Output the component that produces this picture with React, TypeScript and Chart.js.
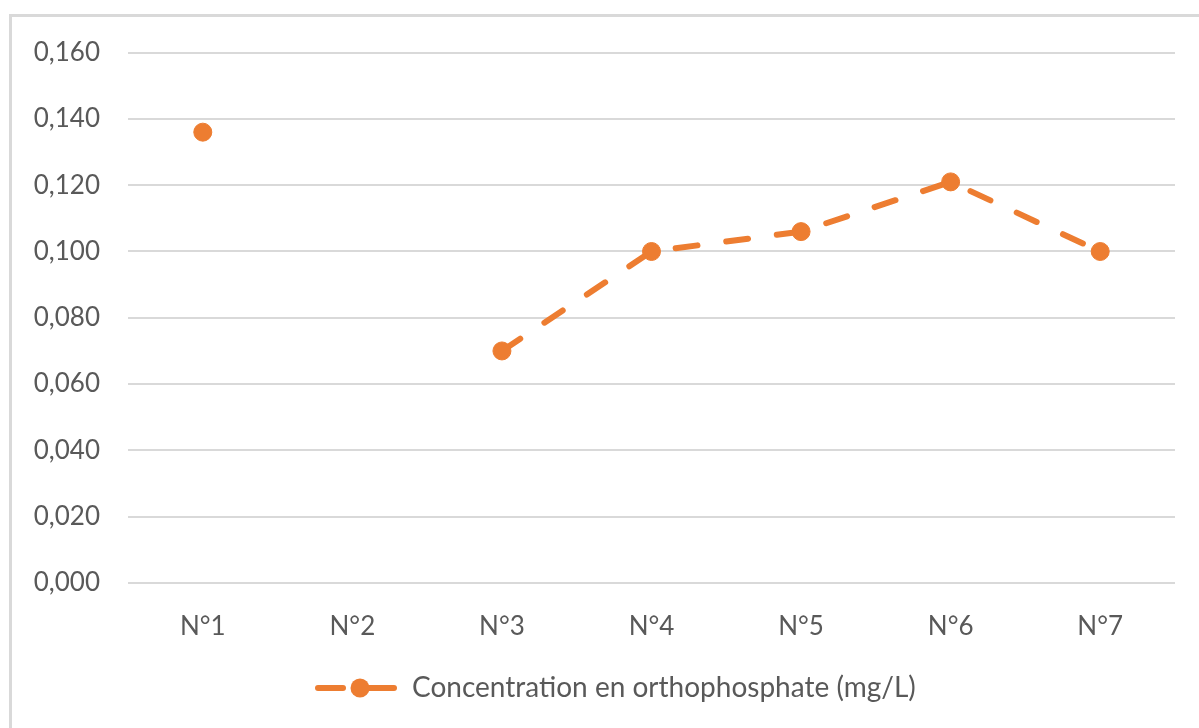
import React, { useEffect, useRef } from "react";
import { Chart, registerables } from "chart.js";

Chart.register(...registerables);

const categories = ["N°1", "N°2", "N°3", "N°4", "N°5", "N°6", "N°7"];
const orthophosphate = [0.136, null, 0.07, 0.1, 0.106, 0.121, 0.1];
const seriesLabel = "Concentration en orthophosphate (mg/L)";
const yMin = 0;
const yMax = 0.16;
const yStep = 0.02;

const ORANGE = "#ED7D31";
const TEXT = "#595959";
const GRID = "#d9d9d9";
const FONT = "Lato, 'Open Sans', sans-serif";

const legendPlugin = {
  id: "excelLegend",
  afterDraw(chart: any) {
    const ctx = chart.ctx;
    const y = 679;
    const x0 = 303;
    ctx.save();
    ctx.strokeStyle = ORANGE;
    ctx.fillStyle = ORANGE;
    ctx.lineWidth = 6;
    ctx.lineCap = "round";
    ctx.beginPath();
    ctx.moveTo(x0 + 3, y);
    ctx.lineTo(x0 + 28, y);
    ctx.stroke();
    ctx.beginPath();
    ctx.moveTo(x0 + 45, y);
    ctx.lineTo(x0 + 79, y);
    ctx.stroke();
    ctx.beginPath();
    ctx.arc(x0 + 45, y, 9.5, 0, Math.PI * 2);
    ctx.fill();
    ctx.fillStyle = TEXT;
    ctx.font = `28px ${FONT}`;
    ctx.textBaseline = "middle";
    ctx.textAlign = "left";
    ctx.fillText(seriesLabel, x0 + 97, y);
    ctx.restore();
  },
};

export default function App() {
  const ref = useRef<HTMLCanvasElement | null>(null);
  useEffect(() => {
    if (!ref.current) return;
    const chart = new Chart(ref.current, {
      type: "line",
      data: {
        labels: categories,
        datasets: [
          {
            label: seriesLabel,
            data: orthophosphate,
            borderColor: ORANGE,
            backgroundColor: ORANGE,
            borderWidth: 6,
            borderDash: [22, 29],
            borderCapStyle: "round",
            borderJoinStyle: "round",
            pointRadius: 9,
            pointBorderWidth: 1,
            pointBackgroundColor: ORANGE,
            pointBorderColor: ORANGE,
            spanGaps: false,
            tension: 0,
          },
        ],
      },
      options: {
        animation: false,
        responsive: false,
        maintainAspectRatio: false,
        layout: { padding: { top: 27, right: 37, left: 0, bottom: 0 } },
        plugins: {
          legend: { display: false },
          tooltip: { enabled: false },
        },
        scales: {
          x: {
            offset: true,
            grid: { display: false, drawTicks: false },
            border: { display: false },
            ticks: {
              color: TEXT,
              font: { family: FONT, size: 26 },
              padding: 28,
              maxRotation: 0,
            },
            afterFit(scale: any) {
              scale.height = 141;
            },
          },
          y: {
            min: yMin,
            max: yMax,
            grid: { color: GRID, lineWidth: 2, drawTicks: false },
            border: { display: false },
            ticks: {
              stepSize: yStep,
              color: TEXT,
              font: { family: FONT, size: 26 },
              padding: 28,
              callback: (v: any) => Number(v).toFixed(3).replace(".", ","),
            },
            afterFit(scale: any) {
              scale.width = 116;
            },
          },
        },
      },
      plugins: [legendPlugin],
    });
    return () => chart.destroy();
  }, []);

  return (
    <div
      style={{
        position: "fixed",
        left: 9,
        top: 14,
        border: `3px solid ${GRID}`,
        background: "#fff",
        width: 1200,
        height: 715,
        overflow: "hidden",
      }}
    >
      <canvas
        ref={ref}
        width={1200}
        height={715}
        style={{ display: "block", position: "relative", top: -8 }}
      />
    </div>
  );
}
